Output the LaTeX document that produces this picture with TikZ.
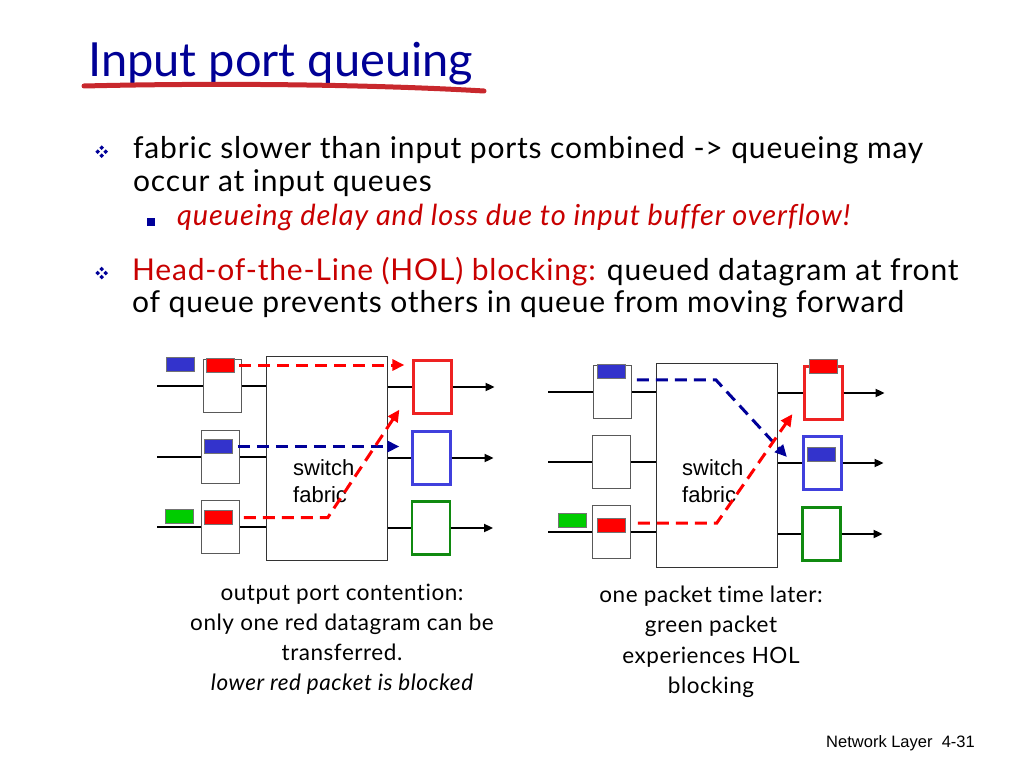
\documentclass[tikz,border=0pt]{standalone}
\usepackage{fontspec}
\setmainfont{Lato}[Ligatures=NoCommon]
\newfontfamily\arialfont{Liberation Sans}
\usetikzlibrary{arrows.meta}
\definecolor{titleblue}{HTML}{000096}
\definecolor{bulletblue}{HTML}{000099}
\definecolor{hlred}{HTML}{C80000}
\definecolor{uline}{HTML}{C8282D}
\definecolor{pktred}{HTML}{FF0000}
\definecolor{pktblue}{HTML}{3333CC}
\definecolor{pktgreen}{HTML}{00CC00}
\definecolor{outred}{HTML}{EE2222}
\definecolor{outblue}{HTML}{4040DD}
\definecolor{outgreen}{HTML}{108A10}
\definecolor{dashred}{HTML}{FF0000}
\definecolor{dashblue}{HTML}{000099}
\tikzset{
  inbuf/.style={draw=black!65, line width=1pt, minimum width=38pt,
                minimum height=53pt, inner sep=0pt},
  outbuf/.style={inbuf, line width=2.2pt},
  pkt/.style={draw=black!55, line width=0.6pt, minimum width=28pt,
              minimum height=14pt, inner sep=0pt},
  fabric/.style={draw=black!80, line width=1pt, minimum width=121pt,
                 minimum height=204pt, inner sep=0pt},
  wire/.style={line width=1.8pt},
  outwire/.style={wire, -{Triangle[length=9pt,width=8pt]}},
  hop/.style={line width=3pt, dash pattern=on 12pt off 7pt,
              -{Triangle[length=12pt,width=11pt]}},
  fablabel/.style={anchor=north west, align=left, inner sep=0pt,
                   font=\arialfont\fontsize{22}{27}\selectfont},
  txt/.style={anchor=base west, inner sep=0pt,
              font=\fontsize{30}{33}\selectfont\addfontfeatures{LetterSpace=2.7}},
  captxt/.style={anchor=base, inner sep=0pt,
                 font=\fontsize{22.5}{30}\selectfont\addfontfeatures{LetterSpace=2.4}},
  sqbullet/.style={fill=bulletblue, minimum size=8pt, inner sep=0pt},
}
\newcommand{\fourdia}[2]{%
  \foreach \dx/\dy in {0/-4,0/4,-4/0,4/0}
    \fill[bulletblue] (#1+\dx,#2+\dy) +(0,-2.3) -- +(2.3,0) -- +(0,2.3) -- +(-2.3,0) -- cycle;}
\begin{document}
\begin{tikzpicture}[x=1pt,y=-1pt]
  \fill[white] (0,0) rectangle (1024,768);
  \useasboundingbox (0,0) rectangle (1024,768);

  \node[anchor=base west, inner sep=0pt, text=titleblue,
        font=\fontsize{47}{47}\selectfont] (title) at (88,77) {Input port queuing};
  \draw[uline, line width=5pt, line cap=round]
    (84,86) .. controls (250,82) and (400,86) .. (484,91);

  \fourdia{101.7}{151.7}
  \node[txt] (l1) at (133,158) {fabric slower than input ports combined -> queueing may};
  \node[txt] (l2) at (133,191) {occur at input queues};
  \node[sqbullet] (sq) at (150.5,222) {};
  \node[txt, text=hlred,
        font=\itshape\fontsize{29}{30}\selectfont\addfontfeatures{LetterSpace=3}] (l3) at (177,225)
    {queueing delay and loss due to input buffer overflow!};
  \fourdia{101.7}{273}
  \node[txt] (l4) at (132,280) {\textcolor{hlred}{Head-of-the-Line (HOL) blocking:} queued datagram at front};
  \node[txt] (l5) at (132,312) {of queue prevents others in queue from moving forward};

  \node[fabric] (fabL) at (326.5,458.5) {};
  \node[inbuf] (inL1) at (222,386) {};
  \node[inbuf] (inL2) at (220.5,457) {};
  \node[inbuf] (inL3) at (220.5,527) {};
  \node[outbuf, draw=outred] (outL1) at (432.5,387) {};
  \node[outbuf, draw=outblue] (outL2) at (431.5,458) {};
  \node[outbuf, draw=outgreen] (outL3) at (431,528) {};
  \foreach \i/\y in {1/386,2/457,3/527} {
    \coordinate (srcL\i) at (157,\y);
    \draw[wire] (srcL\i) -- (inL\i.west);
    \draw[wire] (inL\i.east) -- (inL\i.east -| fabL.west);
    \draw[wire] (fabL.east |- outL\i.west) -- (outL\i.west);
    \coordinate (dstL\i) at ([xshift=42]outL\i.east);
    \draw[outwire] (outL\i.east) -- (dstL\i);
  }
  \node[pkt, fill=pktred] (pL1) at (220,365) {};
  \node[pkt, fill=pktblue] (qL1) at (180.5,364) {};
  \node[pkt, fill=pktblue] (pL2) at (218.5,446.5) {};
  \node[pkt, fill=pktred] (pL3) at (218.5,517.5) {};
  \node[pkt, fill=pktgreen] (qL3) at (179,516) {};
  \node[fablabel] (labL) at (293,459) {switch\\fabric};
  \draw[hop, dashred] ([xshift=5]pL1.east) -- ([xshift=-8]outL1.west |- pL1.east);
  \draw[hop, dashblue] ([xshift=5]pL2.east) -- ([xshift=-12]outL2.west |- pL2.east);
  \draw[hop, dashred] ([xshift=11]pL3.east) -- ++(84,0) -- ([shift={(-13,-5)}]outL1.south west);

  \node[fabric] (fabR) at (717,465) {};
  \node[inbuf] (inR1) at (612.5,392) {};
  \node[inbuf] (inR2) at (611.5,462) {};
  \node[inbuf] (inR3) at (611,532) {};
  \node[outbuf, draw=outred] (outR1) at (823.5,393) {};
  \node[outbuf, draw=outblue] (outR2) at (822.5,463) {};
  \node[outbuf, draw=outgreen] (outR3) at (821.5,534) {};
  \foreach \i/\y in {1/392,2/462,3/532} {
    \coordinate (srcR\i) at (548,\y);
    \draw[wire] (srcR\i) -- (inR\i.west);
    \draw[wire] (inR\i.east) -- (inR\i.east -| fabR.west);
    \draw[wire] (fabR.east |- outR\i.west) -- (outR\i.west);
    \coordinate (dstR\i) at ([xshift=41]outR\i.east);
    \draw[outwire] (outR\i.east) -- (dstR\i);
  }
  \node[pkt, fill=pktblue] (pR1) at (611.5,371.5) {};
  \node[pkt, fill=pktred] (pR3) at (611.5,525.5) {};
  \node[pkt, fill=pktgreen] (qR3) at (572,520.5) {};
  \node[pkt, fill=pktred] (oR1) at (823,366.5) {};
  \node[pkt, fill=pktblue] (oR2) at (821.5,454.5) {};
  \node[fablabel] (labR) at (682,459) {switch\\fabric};
  \draw[hop, dashblue] ([shift={(11,1)}]pR1.south east) -- ++(79,0) -- ([shift={(-15.5,-6)}]outR2.west);
  \draw[hop, dashred] ([shift={(12,-2.5)}]pR3.east) -- ++(79,0) -- ([shift={(-11,-6.5)}]outR1.south west);

  \node[captxt] (capL1) at (342,600) {output port contention:};
  \node[captxt] (capL2) at (342,630) {only one red datagram can be};
  \node[captxt] (capL3) at (342,660) {transferred.};
  \node[captxt, font=\itshape\fontsize{22.5}{30}\selectfont\addfontfeatures{LetterSpace=2.4}]
    (capL4) at (342,690) {lower red packet is blocked};
  \node[captxt] (capR1) at (711,602) {one packet time later:};
  \node[captxt] (capR2) at (711,632) {green packet};
  \node[captxt] (capR3) at (711,663) {experiences HOL};
  \node[captxt] (capR4) at (711,693) {blocking};

  \node[anchor=base east, inner sep=0pt, font=\arialfont\fontsize{16.5}{16}\selectfont]
    (foot) at (975,747) {Network Layer\ \ 4-31};
\end{tikzpicture}
\end{document}
